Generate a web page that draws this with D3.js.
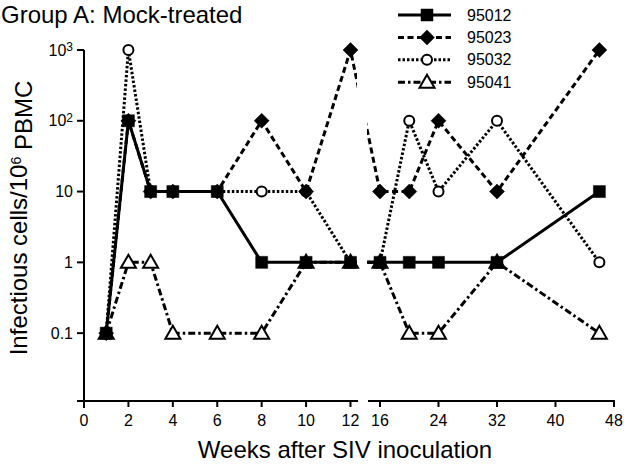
<!DOCTYPE html>
<html>
<head>
<meta charset="utf-8">
<script src="https://cdn.jsdelivr.net/npm/d3@7"></script>
<style>
  html, body { margin: 0; padding: 0; background: #fff; }
  svg { display: block; }
  text { font-family: "Liberation Sans", Arial, Helvetica, sans-serif; fill: #000; }
</style>
</head>
<body>
<div id="chart"></div>
<script>
// weeks after inoculation and infectious cells per 10^6 PBMC
const weeks = [1, 2, 3, 4, 6, 8, 10, 12, 16, 20, 24, 32, 46];
const s95012 = [0.1, 100, 10, 10, 10, 1, 1, 1, 1, 1, 1, 1, 10];
const s95023 = [0.1, 100, 10, 10, 10, 100, 10, 1000, 10, 10, 100, 10, 1000];
const s95032 = [0.1, 1000, 10, 10, 10, 10, 10, 1, 1, 100, 10, 100, 1];
const s95041 = [0.1, 1, 1, 0.1, 0.1, 0.1, 1, 1, 1, 0.1, 0.1, 1, 0.1];
const seriesNames = ['95012', '95023', '95032', '95041'];
const leftTicks = [0, 2, 4, 6, 8, 10, 12];
const rightTicks = [16, 24, 32, 40, 48];
const yTicks = [0.1, 1, 10, 100, 1000];

const W = 624, H = 465;
const svg = d3.select('#chart').append('svg')
  .attr('width', W)
  .attr('height', H);

// broken x axis: two linear pieces
const xLeft = d3.scaleLinear().domain([0, 12]).range([84, 350.5]);
const xRight = d3.scaleLinear().domain([16, 48]).range([380, 614]);
const x = w => (w <= 12 ? xLeft(w) : xRight(w));
const y = d3.scaleLog().domain([0.011, 1000]).range([401, 50]);

const styles = {
  '95012': { dash: null, marker: 'square' },
  '95023': { dash: '6,3.5', marker: 'diamond' },
  '95032': { dash: '2.5,2', marker: 'circle' },
  '95041': { dash: '7,3,2.5,3', marker: 'triangle' }
};

const series = [
  { name: '95041', values: s95041 },
  { name: '95032', values: s95032 },
  { name: '95023', values: s95023 },
  { name: '95012', values: s95012 }
];

function markerPath(type) {
  if (type === 'square') return 'M-6,-6H6V6H-6Z';
  if (type === 'diamond') return 'M0,-7.5L7.5,0L0,7.5L-7.5,0Z';
  if (type === 'triangle') return 'M0,-7.5L7.5,5.5L-7.5,5.5Z';
  return d3.arc()({ innerRadius: 0, outerRadius: 5, startAngle: 0, endAngle: 2 * Math.PI });
}

function drawMarker(g, type, cx, cy) {
  const filled = type === 'square' || type === 'diamond';
  g.append('path')
    .attr('d', markerPath(type))
    .attr('transform', `translate(${cx},${cy})`)
    .attr('fill', filled ? '#000' : '#fff')
    .attr('stroke', '#000')
    .attr('stroke-width', filled ? 0.5 : 2);
}

// title
svg.append('text')
  .attr('x', 1)
  .attr('y', 23)
  .style('font-size', '24px')
  .text('Group A: Mock-treated');

// clip the data lines at the axis break
const defs = svg.append('defs');
const clip = defs.append('clipPath').attr('id', 'breakclip');
clip.append('rect').attr('x', 0).attr('y', 0).attr('width', 357).attr('height', H);
clip.append('rect').attr('x', 367).attr('y', 0).attr('width', W - 367).attr('height', H);

// y axis
const yAxis = svg.append('g').attr('transform', 'translate(84,0)');
yAxis.append('line')
  .attr('x1', 0).attr('x2', 0)
  .attr('y1', y(1000)).attr('y2', 408)
  .attr('stroke', '#000').attr('stroke-width', 2);
const yt = yAxis.selectAll('.yt').data(yTicks).enter().append('g')
  .attr('transform', d => `translate(0,${y(d)})`);
yt.append('line').attr('x1', -7).attr('x2', 0).attr('stroke', '#000').attr('stroke-width', 2);
yt.append('text')
  .attr('x', -11)
  .attr('dy', '0.35em')
  .attr('text-anchor', 'end')
  .style('font-size', '16px')
  .each(function (d) {
    const t = d3.select(this);
    if (d >= 100) {
      t.append('tspan').text('10');
      t.append('tspan').attr('dy', '-0.4em').style('font-size', '12px').text(Math.round(Math.log10(d)));
    } else {
      t.text(d);
    }
  });

// x axis, two segments
const xAxis = svg.append('g');
xAxis.append('line').attr('x1', 77).attr('x2', 358).attr('y1', 401).attr('y2', 401)
  .attr('stroke', '#000').attr('stroke-width', 2);
xAxis.append('line').attr('x1', 368).attr('x2', 615).attr('y1', 401).attr('y2', 401)
  .attr('stroke', '#000').attr('stroke-width', 2);
const tickData = leftTicks.map(v => ({ v, px: xLeft(v) }))
  .concat(rightTicks.map(v => ({ v, px: xRight(v) })));
const xt = xAxis.selectAll('.xt').data(tickData).enter().append('g')
  .attr('transform', d => `translate(${d.px},401)`);
xt.append('line').attr('y1', 0).attr('y2', 6).attr('stroke', '#000').attr('stroke-width', 2);
xt.append('text')
  .attr('y', 25)
  .attr('text-anchor', 'middle')
  .style('font-size', '16px')
  .text(d => d.v);

// axis titles
svg.append('text')
  .attr('x', 345)
  .attr('y', 458)
  .attr('text-anchor', 'middle')
  .style('font-size', '24px')
  .text('Weeks after SIV inoculation');

const yl = svg.append('text')
  .attr('transform', 'translate(27,218) rotate(-90)')
  .attr('text-anchor', 'middle')
  .style('font-size', '24px');
yl.append('tspan').text('Infectious cells/10');
yl.append('tspan').attr('dy', '-0.45em').style('font-size', '14px').text('6');
yl.append('tspan').attr('dy', '0.45em').text(' PBMC');

// lines
const lineGen = d3.line().x(d => x(d[0])).y(d => y(d[1]));
const linesG = svg.append('g').attr('clip-path', 'url(#breakclip)');
series.forEach(s => {
  linesG.append('path')
    .attr('d', lineGen(weeks.map((w, i) => [w, s.values[i]])))
    .attr('fill', 'none')
    .attr('stroke', '#000')
    .attr('stroke-width', 3)
    .attr('stroke-dasharray', styles[s.name].dash);
});

// markers
const markG = svg.append('g');
series.forEach(s => {
  weeks.forEach((w, i) => drawMarker(markG, styles[s.name].marker, x(w), y(s.values[i])));
});

// legend
const legend = svg.append('g');
seriesNames.forEach((name, i) => {
  const cy = 15 + i * 22.4;
  legend.append('line')
    .attr('x1', 398).attr('x2', 451).attr('y1', cy).attr('y2', cy)
    .attr('stroke', '#000').attr('stroke-width', 3)
    .attr('stroke-dasharray', styles[name].dash);
  drawMarker(legend, styles[name].marker, 427, cy);
  legend.append('text')
    .attr('x', 467)
    .attr('y', cy)
    .attr('dy', '0.35em')
    .style('font-size', '16px')
    .text(name);
});
</script>
</body>
</html>
